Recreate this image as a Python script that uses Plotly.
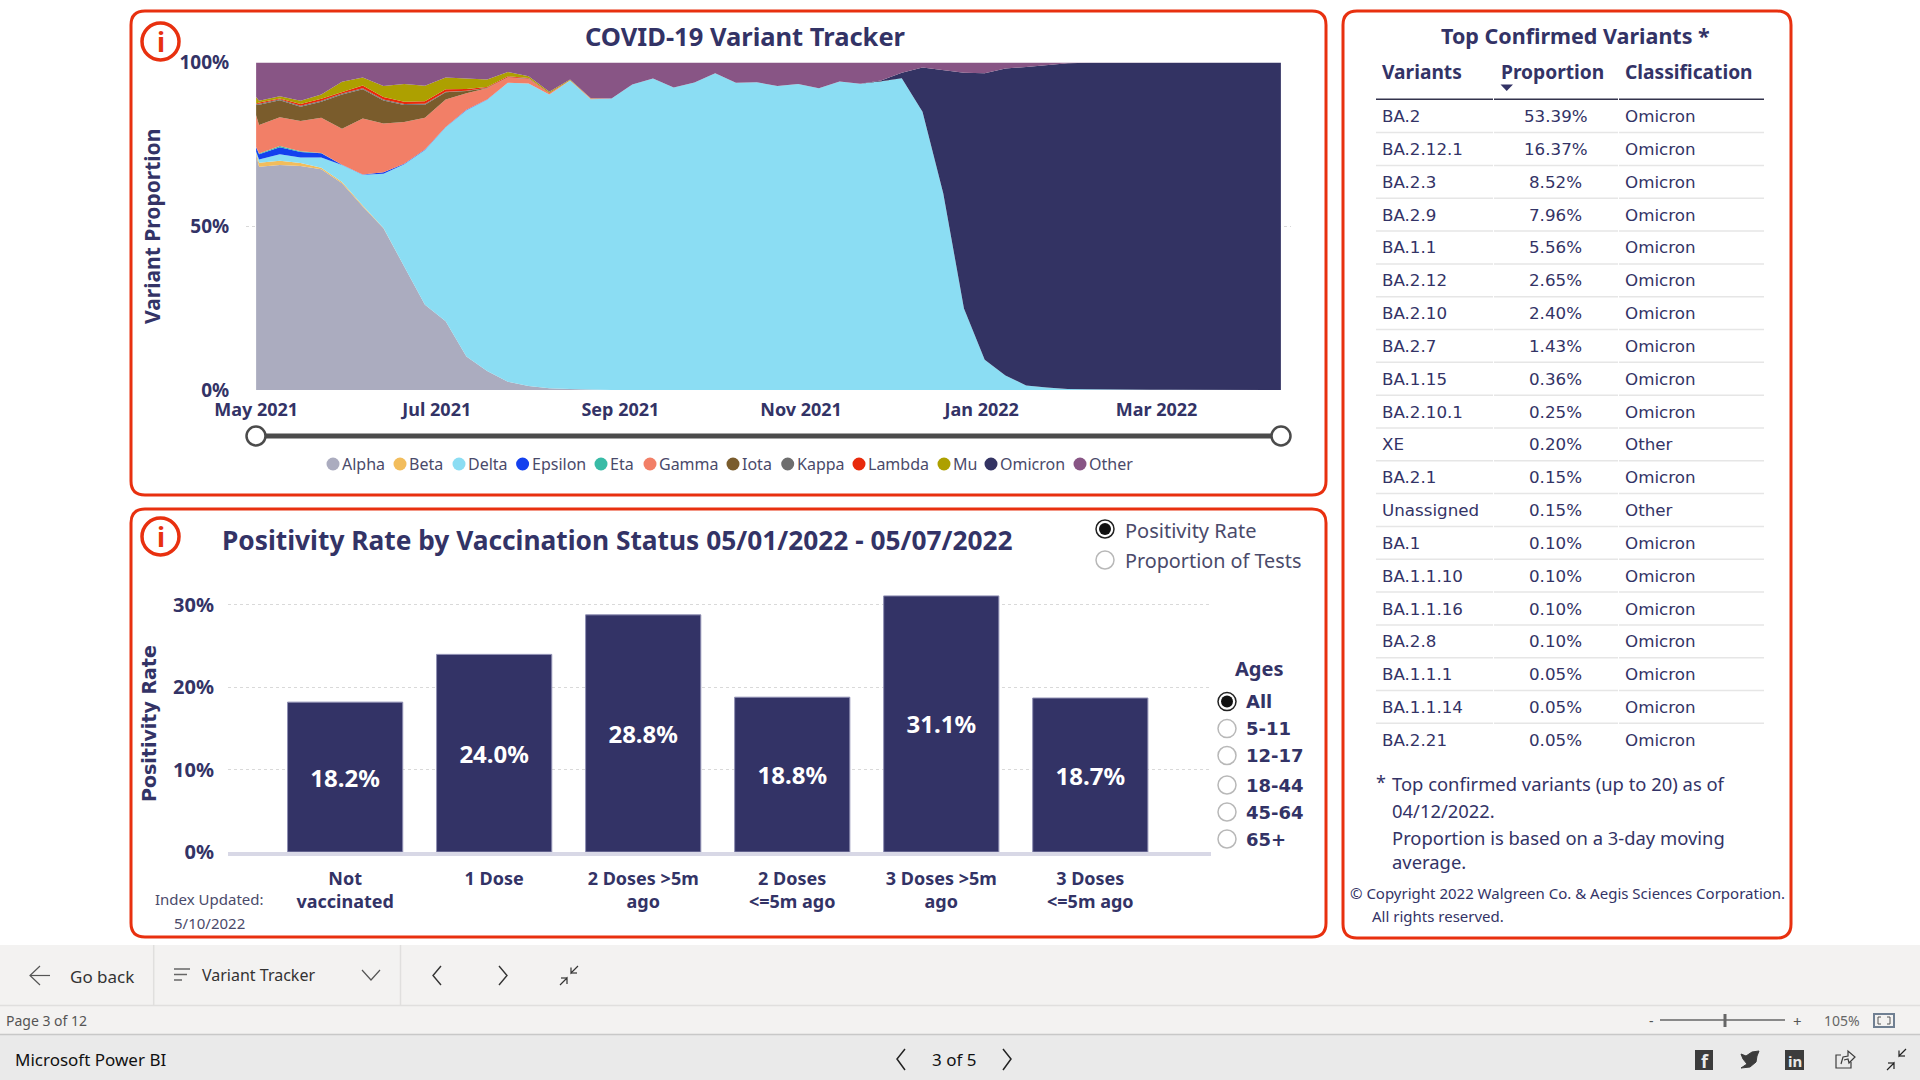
import plotly.graph_objects as go

W = 1920
H = 1080

NAVY = "#333366"
RED = "#e8300f"
TEXT_FONT = "Noto Sans"
WIDE_FONT = "DejaVu Sans"

# variant tracker, weekly proportion in percent
dates = [
    "2021-05-01", "2021-05-02", "2021-05-09", "2021-05-16", "2021-05-23", "2021-05-30", "2021-06-06", "2021-06-13",
    "2021-06-20", "2021-06-27", "2021-07-04", "2021-07-11", "2021-07-18", "2021-07-25", "2021-08-01", "2021-08-08",
    "2021-08-15", "2021-08-22", "2021-08-29", "2021-09-05", "2021-09-12", "2021-09-19", "2021-09-26", "2021-10-03",
    "2021-10-10", "2021-10-17", "2021-10-24", "2021-10-31", "2021-11-07", "2021-11-14", "2021-11-21", "2021-11-28",
    "2021-12-05", "2021-12-12", "2021-12-19", "2021-12-26", "2022-01-02", "2022-01-09", "2022-01-16", "2022-01-23",
    "2022-01-30", "2022-02-06", "2022-02-13", "2022-02-20", "2022-02-27", "2022-03-06", "2022-03-13", "2022-03-20",
    "2022-03-27", "2022-04-03", "2022-04-10", "2022-04-12",
]
alpha = [72.0, 68.2, 68.7, 68.4, 67.4, 63.1, 56.0, 49.4, 37.7, 26.0, 21.0, 10.2, 5.8, 2.5, 1.2, 0.5, 0.3, 0.1,
         0, 0, 0, 0, 0, 0, 0, 0, 0, 0, 0, 0, 0, 0, 0, 0, 0, 0, 0, 0, 0, 0, 0, 0, 0, 0, 0, 0, 0, 0, 0, 0, 0, 0]
beta = [0.5, 1.2, 1.3, 0.9, 0.5, 0.4, 0.3, 0.1,
        0, 0, 0, 0, 0, 0, 0, 0, 0, 0, 0, 0, 0, 0, 0, 0, 0, 0, 0, 0, 0, 0, 0, 0, 0, 0, 0, 0, 0, 0, 0, 0, 0, 0, 0, 0, 0, 0, 0, 0, 0, 0, 0, 0]
delta = [0.3, 1.0, 2.0, 1.7, 3.1, 5.2, 9.4, 16.5, 31.2, 47.3, 59.2, 75.2, 82.8, 91.3, 92.4, 89.7, 94.2, 88.7, 89.0,
         93.3, 95.1, 92.4, 93.9, 96.7, 93.8, 94.0, 92.8, 93.4, 92.1, 94.2, 93.5, 94.3, 95.2, 85.0, 60.1, 24.9, 9.2,
         4.4, 1.4, 0.8, 0.3, 0.2, 0.1, 0.1, 0.1, 0.1, 0.1, 0.1, 0, 0, 0, 0]
epsilon = [1.4, 1.6, 2.1, 1.7, 1.3, 0.1, 0.1, 0.5, 0.2, 0.1, 0.1, 0.2, 0.1,
           0, 0, 0, 0, 0, 0, 0, 0, 0, 0, 0, 0, 0, 0, 0, 0, 0, 0, 0, 0, 0, 0, 0, 0, 0, 0, 0, 0, 0, 0, 0, 0, 0, 0, 0, 0, 0]
eta = [0, 0.2, 0.4, 0.2, 0.1,
       0, 0, 0, 0, 0, 0, 0, 0, 0, 0, 0, 0, 0, 0, 0, 0, 0, 0, 0, 0, 0, 0, 0, 0, 0, 0, 0, 0, 0, 0, 0, 0, 0, 0, 0, 0, 0, 0, 0, 0, 0, 0, 0, 0, 0, 0, 0]
gamma = [9.7, 8.7, 8.8, 9.2, 10.7, 11.0, 17.1, 14.9, 12.7, 9.7, 8.4, 5.0, 3.4, 1.6, 1.4, 0.3, 0.1, 0.2,
         0, 0, 0, 0, 0, 0, 0, 0, 0, 0, 0, 0, 0, 0, 0, 0, 0, 0, 0, 0, 0, 0, 0, 0, 0, 0, 0, 0, 0, 0, 0, 0, 0, 0]
iota = [3.2, 6.2, 5.2, 4.4, 4.9, 10.4, 8.9, 7.0, 5.2, 4.0, 2.2, 0.7, 0.1,
        0, 0, 0, 0, 0, 0, 0, 0, 0, 0, 0, 0, 0, 0, 0, 0, 0, 0, 0, 0, 0, 0, 0, 0, 0, 0, 0, 0, 0, 0, 0, 0, 0, 0, 0, 0, 0]
kappa = [0.2, 0.3, 0.3, 0.3, 0.3, 0.3, 0.3, 0.3, 0.3, 0.3, 0.2, 0.1, 0.1, 0.1, 0.1,
         0, 0, 0, 0, 0, 0, 0, 0, 0, 0, 0, 0, 0, 0, 0, 0, 0, 0, 0, 0, 0, 0, 0, 0, 0, 0, 0, 0, 0, 0, 0, 0, 0, 0, 0, 0, 0]
lambda_ = [0.2, 0.4, 0.2, 0.5, 0.6, 0.5, 0.9, 0.8, 0.7, 0.8, 0.7, 0.5, 0.2, 0.3, 0.2, 0.2,
           0, 0, 0, 0, 0, 0, 0, 0, 0, 0, 0, 0, 0, 0, 0, 0, 0, 0, 0, 0, 0, 0, 0, 0, 0, 0, 0, 0, 0, 0, 0, 0, 0, 0, 0, 0]
mu = [2.0, 0.5, 0.7, 1.0, 1.3, 3.1, 2.4, 3.3, 5.4, 4.7, 3.6, 3.3, 2.3, 1.3, 0.5, 0.4, 0.2, 0.1,
      0, 0, 0, 0, 0, 0, 0, 0, 0, 0, 0, 0, 0, 0, 0, 0, 0, 0, 0, 0, 0, 0, 0, 0, 0, 0, 0, 0, 0, 0, 0, 0, 0, 0]
omicron = [0, 0, 0, 0, 0, 0, 0, 0, 0, 0, 0, 0, 0, 0, 0, 0, 0, 0, 0, 0, 0, 0, 0, 0, 0, 0, 0, 0, 0, 0, 0,
           0.2, 1.7, 13.5, 37.7, 72.0, 87.5, 93.8, 97.2, 98.5, 99.5, 99.7, 99.8, 99.8, 99.9, 99.8, 99.8, 99.7, 99.8,
           99.9, 100.0, 100.0]
other = [10.5, 11.7, 10.3, 11.7, 9.8, 5.9, 4.6, 7.2, 6.6, 7.1, 4.6, 4.8, 5.2, 2.9, 4.2, 8.9, 5.2, 10.9, 11.0, 6.7,
         4.9, 7.6, 6.1, 3.3, 6.2, 6.0, 7.2, 6.6, 7.9, 5.8, 6.5, 5.5, 3.1, 1.5, 2.2, 3.1, 3.3, 1.8, 1.4, 0.7, 0.2,
         0.1, 0.1, 0.1, 0, 0.1, 0.1, 0.2, 0.2, 0.1, 0, 0]

variant_names = ["Alpha", "Beta", "Delta", "Epsilon", "Eta", "Gamma", "Iota", "Kappa", "Lambda", "Mu", "Omicron", "Other"]
variant_values = [alpha, beta, delta, epsilon, eta, gamma, iota, kappa, lambda_, mu, omicron, other]
variant_colors = ["#abacbf", "#f2bd5c", "#8bddf3", "#1440ee", "#38bba6", "#f27f67",
                  "#7a5c2c", "#6e6e6e", "#e8290b", "#ada000", "#333363", "#885585"]
legend_dot_x = [333, 400, 459, 522.6, 601, 650, 733, 787.7, 859, 944, 991, 1080]

# positivity rate bars
status_labels = ["Not<br>vaccinated", "1 Dose", "2 Doses &gt;5m<br>ago", "2 Doses<br>&lt;=5m ago",
                 "3 Doses &gt;5m<br>ago", "3 Doses<br>&lt;=5m ago"]
positivity = [18.2, 24.0, 28.8, 18.8, 31.1, 18.7]

age_groups = ["All", "5-11", "12-17", "18-44", "45-64", "65+"]
age_y = [701.6, 728.6, 755.5, 785, 812, 839]

# top variants table
table_variants = ["BA.2", "BA.2.12.1", "BA.2.3", "BA.2.9", "BA.1.1", "BA.2.12", "BA.2.10", "BA.2.7", "BA.1.15",
                  "BA.2.10.1", "XE", "BA.2.1", "Unassigned", "BA.1", "BA.1.1.10", "BA.1.1.16", "BA.2.8", "BA.1.1.1",
                  "BA.1.1.14", "BA.2.21"]
table_proportion = ["53.39%", "16.37%", "8.52%", "7.96%", "5.56%", "2.65%", "2.40%", "1.43%", "0.36%", "0.25%",
                    "0.20%", "0.15%", "0.15%", "0.10%", "0.10%", "0.10%", "0.10%", "0.05%", "0.05%", "0.05%"]
table_class = ["Omicron", "Omicron", "Omicron", "Omicron", "Omicron", "Omicron", "Omicron", "Omicron", "Omicron",
               "Omicron", "Other", "Omicron", "Other", "Omicron", "Omicron", "Omicron", "Omicron", "Omicron",
               "Omicron", "Omicron"]


def px(x):
    return x / W


def py(y):
    return 1 - y / H


shapes = []
annotations = []


def add_text(x, y, text, size, color=NAVY, bold=False, anchor="left", family=TEXT_FONT, angle=0):
    if bold:
        text = f"<b>{text}</b>"
    annotations.append(
        dict(
            x=px(x), y=py(y), xref="paper", yref="paper", text=text, showarrow=False, xanchor=anchor,
            yanchor="middle", textangle=angle, align=anchor if anchor != "middle" else "center",
            font=dict(family=family, size=size, color=color), borderpad=0, borderwidth=0,
        )
    )


def add_rect(x0, y0, x1, y1, fill, line=None, width=0, layer="below"):
    shapes.append(
        dict(type="rect", xref="paper", yref="paper", x0=px(x0), y0=py(y0), x1=px(x1), y1=py(y1), fillcolor=fill,
             line=dict(color=line or fill, width=width), layer=layer)
    )


def add_line(x0, y0, x1, y1, color, width=1, layer="above"):
    shapes.append(
        dict(type="line", xref="paper", yref="paper", x0=px(x0), y0=py(y0), x1=px(x1), y1=py(y1),
             line=dict(color=color, width=width), layer=layer)
    )


def add_circle(cx, cy, r, fill, line, width, layer="above"):
    shapes.append(
        dict(type="circle", xref="paper", yref="paper", x0=px(cx - r), y0=py(cy - r), x1=px(cx + r), y1=py(cy + r),
             fillcolor=fill, line=dict(color=line, width=width), layer=layer)
    )


def add_poly(points, color, width=1.5, fill="rgba(0,0,0,0)", close=False):
    path = "M " + " L ".join(f"{px(x)} {py(y)}" for x, y in points)
    if close:
        path += " Z"
    shapes.append(dict(type="path", xref="paper", yref="paper", path=path, fillcolor=fill,
                       line=dict(color=color, width=width), layer="above"))


def add_panel(x0, y0, x1, y1, r=14):
    path = (
        f"M {px(x0 + r)} {py(y0)} L {px(x1 - r)} {py(y0)} Q {px(x1)} {py(y0)} {px(x1)} {py(y0 + r)} "
        f"L {px(x1)} {py(y1 - r)} Q {px(x1)} {py(y1)} {px(x1 - r)} {py(y1)} "
        f"L {px(x0 + r)} {py(y1)} Q {px(x0)} {py(y1)} {px(x0)} {py(y1 - r)} "
        f"L {px(x0)} {py(y0 + r)} Q {px(x0)} {py(y0)} {px(x0 + r)} {py(y0)} Z"
    )
    shapes.append(dict(type="path", xref="paper", yref="paper", path=path, line=dict(color=RED, width=3), layer="below"))


def add_info_icon(cx, cy):
    add_circle(cx, cy, 18.5, "white", RED, 3.5)
    add_text(cx, cy, "i", 27, color=RED, bold=True, anchor="center")


def add_radio(cx, cy, selected=False):
    add_circle(cx, cy, 9, "white", "#b8b8b8" if not selected else "#222222", 1.5)
    if selected:
        add_circle(cx, cy, 6, "#111111", "#111111", 0)


fig = go.Figure()

for name, values, color in zip(variant_names, variant_values, variant_colors):
    fig.add_trace(
        go.Scatter(
            x=dates, y=values, name=name, mode="lines", stackgroup="variants", line=dict(width=0, color=color),
            fillcolor=color, xaxis="x", yaxis="y", showlegend=False,
        )
    )

fig.add_trace(
    go.Bar(
        x=list(range(len(positivity))), y=positivity, xaxis="x2", yaxis="y2",
        marker=dict(color=NAVY, line=dict(color="#8f8fb3", width=1)),
        text=[f"{v:.1f}%" for v in positivity], textposition="inside", insidetextanchor="middle",
        textangle=0, textfont=dict(family=TEXT_FONT, size=24, color="white", weight="bold"), showlegend=False,
        width=0.773,
    )
)

# panels
add_panel(131, 11, 1326, 495)
add_panel(131, 509, 1326, 937)
add_panel(1343, 11, 1791, 938)

# variant chart texts
add_info_icon(160.5, 41.5)
add_text(745, 36, "COVID-19 Variant Tracker", 25.5, bold=True, anchor="center")
add_text(152, 227, "Variant Proportion", 21, bold=True, anchor="center", angle=-90)

# date slider
add_line(256, 436, 1281, 436, "#4b4b4b", 5)
add_circle(256, 436, 9.5, "white", "#4b4b4b", 2.5)
add_circle(1281, 436, 9.5, "white", "#4b4b4b", 2.5)

for name, color, dot_x in zip(variant_names, variant_colors, legend_dot_x):
    add_circle(dot_x, 464, 6.5, color, color, 0)
    add_text(dot_x + 9, 464, name, 16, color="#4a4a6a")

# positivity chart texts
add_info_icon(160.5, 536.5)
add_text(222, 540, "Positivity Rate by Vaccination Status 05/01/2022 - 05/07/2022", 26.3, bold=True)
add_text(149, 724, "Positivity Rate", 19, bold=True, anchor="center", family=WIDE_FONT, angle=-90)
add_radio(1105, 529, selected=True)
add_radio(1105, 560)
add_text(1125, 530, "Positivity Rate", 20, color="#4a4a6a")
add_text(1125, 560, "Proportion of Tests", 19.8, color="#4a4a6a")
add_text(1259, 668, "Ages", 20, bold=True, anchor="center")
for i, (age, y) in enumerate(zip(age_groups, age_y)):
    add_radio(1227, y, selected=i == 0)
    add_text(1246, y, age, 18, bold=True, family=WIDE_FONT)
add_text(209, 899, "Index Updated:", 15, color="#4a4a6a", anchor="center")
add_text(209, 923, "5/10/2022", 15, color="#4a4a6a", anchor="center")

# table
add_text(1575, 36, "Top Confirmed Variants *", 21.5, bold=True, anchor="center")
add_text(1382, 71, "Variants", 19.2, bold=True)
add_text(1501, 71, "Proportion", 19.2, bold=True)
add_text(1625, 71, "Classification", 19.2, bold=True)
add_poly([(1500.5, 84.5), (1513, 84.5), (1506.7, 91)], NAVY, width=0, fill=NAVY, close=True)
for x0, x1 in [(1376, 1493), (1494, 1618), (1619, 1764)]:
    add_line(x0, 99.3, x1, 99.3, "#33334d", 1.5)
for i, (variant, share, kind) in enumerate(zip(table_variants, table_proportion, table_class)):
    y = 116.2 + i * 32.82
    add_text(1382, y, variant, 16.7, family=WIDE_FONT)
    add_text(1555.7, y, share, 16.7, anchor="center", family=WIDE_FONT)
    add_text(1625, y, kind, 16.7, family=WIDE_FONT)
    if i < len(table_variants) - 1:
        for x0, x1 in [(1376, 1493), (1494, 1618), (1619, 1764)]:
            add_line(x0, y + 16.4, x1, y + 16.4, "#e6e6e6", 1.5)

add_text(1376, 782, "*", 18)
add_text(1392, 783, "Top confirmed variants (up to 20) as of", 18.4)
add_text(1392, 810, "04/12/2022.", 18.4)
add_text(1392, 837, "Proportion is based on a 3-day moving", 18.4)
add_text(1392, 861, "average.", 18.4)
add_text(1350, 893, "© Copyright 2022 Walgreen Co. &amp; Aegis Sciences Corporation.", 15)
add_text(1372, 916, "All rights reserved.", 15)

# report toolbar
add_rect(0, 945, W, 1035, "#f3f2f1")
add_rect(0, 1035, W, H, "#eaeaea")
add_line(0, 1005.5, W, 1005.5, "#e0dfde", 1.5)
add_line(0, 1034.5, W, 1034.5, "#c8c8c8", 1.5)
add_line(153.7, 945, 153.7, 1005, "#e0dfde", 1.5)
add_line(400.5, 945, 400.5, 1005, "#e0dfde", 1.5)

add_poly([(40, 966), (30, 975.5), (40, 985)], "#555555", 1.2)
add_line(30, 975.5, 50, 975.5, "#555555", 1.2)
add_text(70, 976, "Go back", 17, color="#333333")
add_line(174, 969, 190, 969, "#666666", 1.5)
add_line(174, 974.5, 187, 974.5, "#666666", 1.5)
add_line(174, 980, 182, 980, "#666666", 1.5)
add_text(202, 975, "Variant Tracker", 16, color="#333333")
add_poly([(362, 970), (371, 980), (380, 970)], "#555555", 1.2)
add_poly([(441, 966), (433, 975.5), (441, 985)], "#333333", 1.4)
add_poly([(499, 966), (507, 975.5), (499, 985)], "#333333", 1.4)
add_poly([(578, 966), (571, 973), (571, 967.5)], "#333333", 1.2)
add_line(571, 973, 577, 973, "#333333", 1.2)
add_poly([(560, 985), (567, 978), (567, 984)], "#333333", 1.2)
add_line(561, 978, 567, 978, "#333333", 1.2)

add_text(6, 1020, "Page 3 of 12", 14, color="#555555")
add_text(1651, 1020, "-", 14, color="#555555", anchor="center")
add_line(1660, 1020, 1785, 1020, "#666666", 1.5)
add_line(1725, 1014, 1725, 1027, "#666666", 3)
add_text(1797, 1021, "+", 15, color="#555555", anchor="center")
add_text(1842, 1020, "105%", 14, color="#666666", anchor="center")
add_rect(1874, 1014, 1894, 1027, "#f3f2f1", "#6f7f92", 2, layer="above")
add_poly([(1881, 1017), (1878, 1017), (1878, 1024), (1881, 1024)], "#555555", 1)
add_poly([(1887, 1017), (1890, 1017), (1890, 1024), (1887, 1024)], "#555555", 1)

# footer
add_text(15, 1059, "Microsoft Power BI", 17, color="#111111")
add_poly([(905, 1049), (897, 1059), (905, 1070)], "#222222", 1.5)
add_text(954, 1059, "3 of 5", 17, color="#111111", anchor="center")
add_poly([(1003, 1049), (1011, 1059), (1003, 1070)], "#222222", 1.5)
add_rect(1695, 1050, 1713, 1070, "#3c3c3c")
add_text(1705, 1061, "f", 18, color="#eaeaea", bold=True, anchor="center")
add_poly([(1741, 1054), (1746, 1056), (1752, 1052), (1759, 1051), (1757, 1056), (1756, 1062), (1750, 1067),
          (1741, 1068), (1747, 1064), (1743, 1059)], "#3c3c3c", 1, fill="#3c3c3c", close=True)
add_rect(1785, 1050, 1804, 1070, "#3c3c3c")
add_text(1794.5, 1061, "in", 15, color="#eaeaea", bold=True, anchor="center")
add_poly([(1841, 1055), (1836, 1055), (1836, 1068), (1851, 1068), (1851, 1062)], "#3c3c3c", 1.2)
add_poly([(1841, 1064), (1843, 1057), (1848, 1056), (1848, 1051), (1855, 1057), (1849, 1063), (1848, 1059), (1844, 1060)],
         "#3c3c3c", 1.2)
add_poly([(1906, 1049), (1899, 1056), (1899, 1050.5)], "#222222", 1.2)
add_line(1899, 1056, 1905, 1056, "#222222", 1.2)
add_poly([(1887, 1070), (1894, 1063), (1894, 1069)], "#222222", 1.2)
add_line(1888, 1063, 1894, 1063, "#222222", 1.2)

axis_font = dict(family=TEXT_FONT, size=18, color=NAVY, weight="bold")
value_font = dict(family=TEXT_FONT, size=20, color=NAVY, weight="bold")

fig.update_layout(
    width=W,
    height=H,
    margin=dict(l=0, r=0, t=0, b=0, autoexpand=False),
    paper_bgcolor="white",
    plot_bgcolor="rgba(0,0,0,0)",
    showlegend=False,
    bargap=0.227,
    shapes=shapes,
    annotations=annotations,
    xaxis=dict(
        domain=[px(246), px(1291)],
        anchor="y",
        type="date",
        range=["2021-04-27 14:00", "2022-04-15 10:00"],
        tick0="2021-05-01",
        dtick="M2",
        tickformat="%b %Y",
        tickfont=axis_font,
        ticks="outside",
        ticklen=3,
        tickcolor="rgba(0,0,0,0)",
        showgrid=False,
        zeroline=False,
        showline=False,
    ),
    yaxis=dict(
        domain=[py(390), py(62.5)],
        anchor="x",
        range=[0, 100],
        tickvals=[0, 50, 100],
        ticktext=["0%", "50%", "100%"],
        tickfont=dict(family=TEXT_FONT, size=19, color=NAVY, weight="bold"),
        ticks="outside",
        ticklen=12,
        tickcolor="rgba(0,0,0,0)",
        showgrid=True,
        gridcolor="#d9d9d9",
        griddash="dot",
        zeroline=False,
        showline=False,
    ),
    xaxis2=dict(
        domain=[px(228), px(1211)],
        anchor="y2",
        range=[-0.786, 5.81],
        tickvals=list(range(len(positivity))),
        ticktext=status_labels,
        tickfont=axis_font,
        ticks="outside",
        ticklen=7,
        tickcolor="rgba(0,0,0,0)",
        showgrid=False,
        zeroline=False,
        showline=True,
        linecolor="#d8d8e6",
        linewidth=4,
    ),
    yaxis2=dict(
        domain=[py(852), py(588.5)],
        anchor="x2",
        range=[0, 32],
        tickvals=[0, 10, 20, 30],
        ticktext=["0%", "10%", "20%", "30%"],
        tickfont=value_font,
        ticks="outside",
        ticklen=9,
        tickcolor="rgba(0,0,0,0)",
        showgrid=True,
        gridcolor="#d9d9d9",
        griddash="dot",
        zeroline=False,
        showline=False,
    ),
)

fig.write_html(
    "out.html",
    config=dict(displayModeBar=False),
    post_script="document.body.style.margin='0';document.body.style.overflow='hidden';",
)
